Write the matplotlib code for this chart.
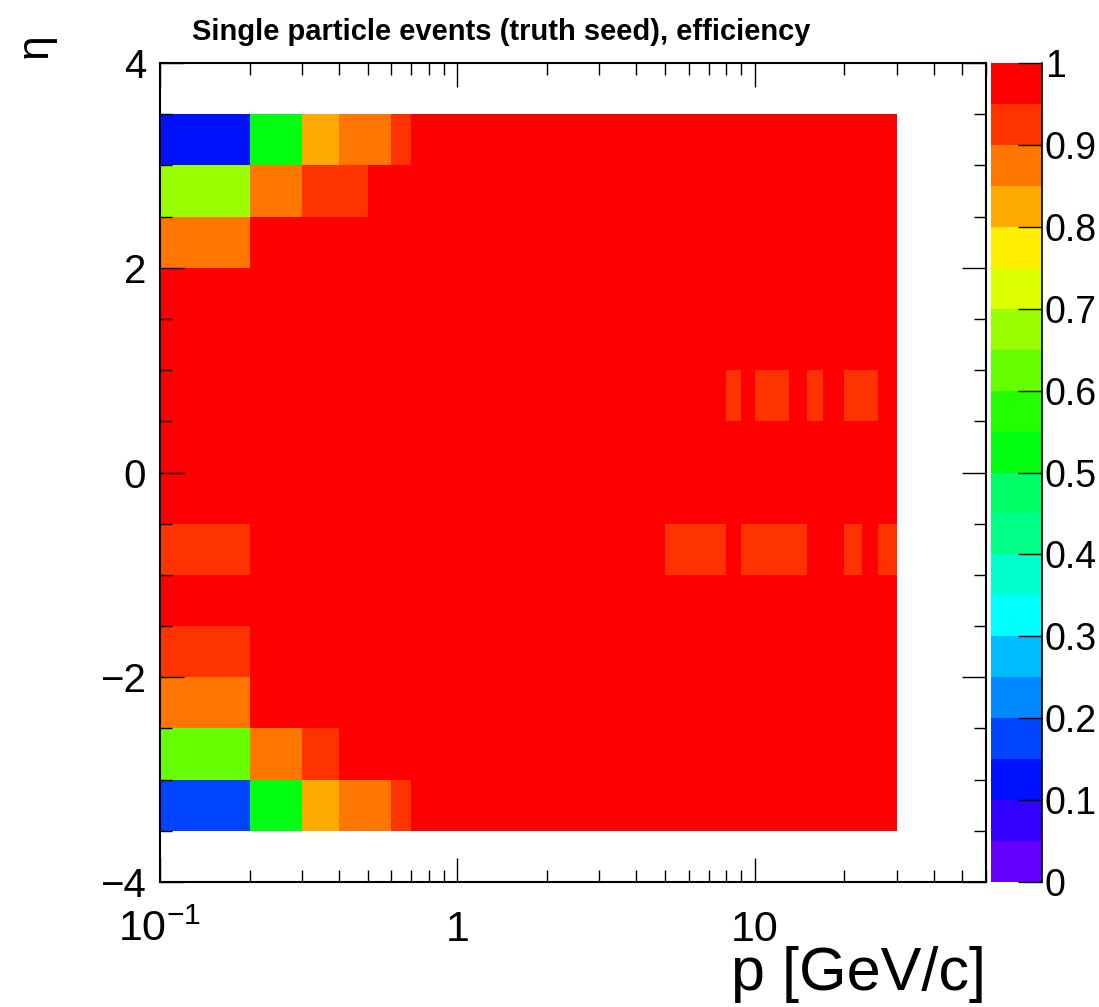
import numpy as np
import matplotlib
matplotlib.use('Agg')
import matplotlib.pyplot as plt
from matplotlib.colors import ListedColormap, BoundaryNorm
from matplotlib.ticker import FixedLocator, FixedFormatter, NullFormatter, MultipleLocator

plt.rcParams['font.family'] = ['Liberation Sans', 'DejaVu Sans']
plt.rcParams['mathtext.fontset'] = 'custom'
plt.rcParams['mathtext.rm'] = 'Liberation Sans'
plt.rcParams['mathtext.it'] = 'Liberation Sans:italic'
plt.rcParams['mathtext.bf'] = 'Liberation Sans:bold'

# bin edges
p_edges = [0.1, 0.2, 0.3, 0.4, 0.5, 0.6, 0.7, 0.8, 0.9, 1.0,
           2, 3, 4, 5, 6, 7, 8, 9, 10, 11, 13, 15, 17, 20, 23, 26, 30]
eta_edges = [-3.5, -3.0, -2.5, -2.0, -1.5, -1.0, -0.5, 0.0,
             0.5, 1.0, 1.5, 2.0, 2.5, 3.0, 3.5]

# efficiency, one row per eta bin (top row = 3.0..3.5 first), one value per p bin
eff_rows = [
    [0.12, 0.52, 0.83, 0.87, 0.87, 0.93] + [0.99] * 20,                 # 3.0 .. 3.5
    [0.68, 0.88, 0.93, 0.93] + [0.99] * 22,                             # 2.5 .. 3.0
    [0.88] + [0.99] * 25,                                               # 2.0 .. 2.5
    [0.99] * 26,                                                        # 1.5 .. 2.0
    [0.99] * 26,                                                        # 1.0 .. 1.5
    [0.99] * 16 + [0.94, 0.99, 0.94, 0.94, 0.99, 0.94, 0.99, 0.94, 0.94, 0.99],  # 0.5 .. 1.0
    [0.99] * 26,                                                        # 0.0 .. 0.5
    [0.99] * 26,                                                        # -0.5 .. 0.0
    [0.93] + [0.99] * 12 + [0.94, 0.94, 0.94, 0.99, 0.94, 0.94, 0.94, 0.94,
                            0.99, 0.99, 0.94, 0.99, 0.94],               # -1.0 .. -0.5
    [0.99] * 26,                                                        # -1.5 .. -1.0
    [0.93] + [0.99] * 25,                                               # -2.0 .. -1.5
    [0.87] + [0.99] * 25,                                               # -2.5 .. -2.0
    [0.63, 0.88, 0.93] + [0.99] * 23,                                   # -3.0 .. -2.5
    [0.17, 0.52, 0.83, 0.87, 0.87, 0.93] + [0.99] * 20,                 # -3.5 .. -3.0
]

palette = ['#6600ff', '#3300ff', '#0011ff', '#0044ff', '#0088ff', '#00bbff',
           '#00ffff', '#00ffcc', '#00ff88', '#00ff66', '#00ff11', '#22ff00',
           '#66ff00', '#99ff00', '#ddff00', '#ffee00', '#ffaa00', '#ff7700',
           '#ff3300', '#ff0000']
levels = np.linspace(0, 1, 21)

x_ticks = [0.1, 1, 10]
x_labels = ['$10^{-1}$', '1', '10']
y_ticks = [-4, -2, 0, 2, 4]
y_labels = ['\u22124', '\u22122', '0', '2', '4']
z_ticks = [0, 0.1, 0.2, 0.3, 0.4, 0.5, 0.6, 0.7, 0.8, 0.9, 1.0]
z_labels = ['0', '0.1', '0.2', '0.3', '0.4', '0.5', '0.6', '0.7', '0.8', '0.9', '1']

eff = np.array(eff_rows[::-1])
cmap = ListedColormap(palette)
norm = BoundaryNorm(levels, cmap.N)

fig = plt.figure(figsize=(10.99, 10.07), dpi=100)
ax = fig.add_axes([0.1456, 0.1241, 0.7516, 0.8133])
mesh = ax.pcolormesh(p_edges, eta_edges, eff, cmap=cmap, norm=norm, shading='flat')

ax.set_xscale('log')
ax.set_xlim(0.1, 60)
ax.set_ylim(-4, 4)
ax.xaxis.set_major_locator(FixedLocator(x_ticks))
ax.xaxis.set_major_formatter(FixedFormatter(x_labels))
ax.xaxis.set_minor_formatter(NullFormatter())
ax.yaxis.set_major_locator(FixedLocator(y_ticks))
ax.yaxis.set_major_formatter(FixedFormatter(y_labels))
ax.yaxis.set_minor_locator(MultipleLocator(0.5))
ax.tick_params(which='both', direction='in', top=True, right=True, width=1.0)
ax.tick_params(which='major', length=17)
ax.tick_params(which='minor', length=8.5)
ax.tick_params(axis='x', which='major', labelsize=31, pad=20)
ax.tick_params(axis='y', which='major', labelsize=29, pad=10)
for s in ax.spines.values():
    s.set_linewidth(1.5)

cax = fig.add_axes([0.9017, 0.1241, 0.0464, 0.8133])
cb = fig.colorbar(mesh, cax=cax, ticks=z_ticks)
cb.outline.set_visible(False)
cax.yaxis.set_major_formatter(FixedFormatter(z_labels))
cax.yaxis.set_ticks_position('right')
cax.tick_params(direction='in', length=17, width=1.0, labelsize=27, pad=2)
cax.minorticks_off()
cax.plot([1, 1], [0, 1], transform=cax.transAxes, color='black', lw=1.2, clip_on=False)

fig.text(0.175, 0.968, 'Single particle events (truth seed), efficiency',
         fontsize=21, fontweight='bold', ha='left', va='center')
fig.text(0.897, 0.032, 'p [GeV/c]', fontsize=44, ha='right', va='center')
fig.text(0.032, 0.955, '\u03b7', fontsize=32, rotation=90, ha='center', va='center')

fig.savefig('out.png', dpi=100)
